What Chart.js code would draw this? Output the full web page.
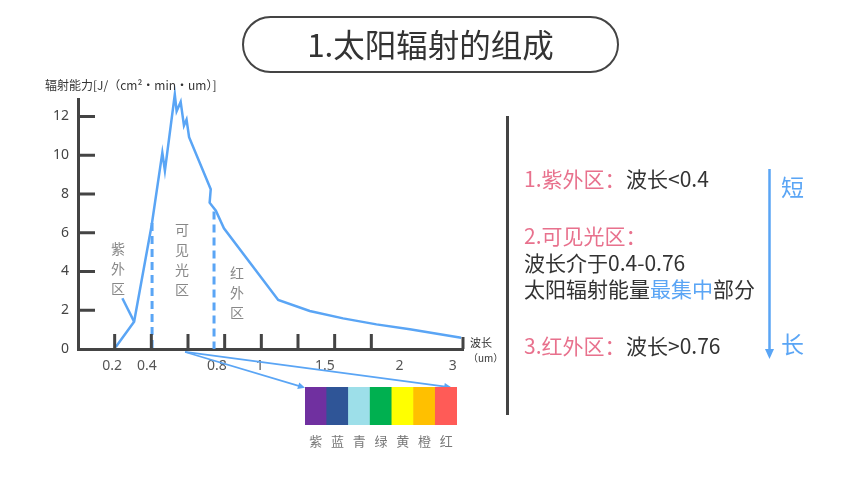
<!DOCTYPE html>
<html>
<head>
<meta charset="utf-8">
<script src="https://cdn.jsdelivr.net/npm/chart.js@4.4.0/dist/chart.umd.min.js"></script>
<style>
  body { margin: 0; width: 860px; height: 484px; background: #fff; position: relative; overflow: hidden;
         font-family: "Noto Sans CJK SC", "Noto Sans", sans-serif; color: #333; }
  .abs { position: absolute; white-space: nowrap; }
  #main { position: absolute; left: 0; top: 0; }
  #strip { position: absolute; left: 305px; top: 387px; }
  .title { left: 242px; top: 16px; width: 377px; height: 57px; box-sizing: border-box; border: 2.5px solid #444;
           border-radius: 30px; font-size: 31.5px; line-height: 51px; text-align: center; color: #333; }
  .region { font-size: 14px; line-height: 20px; color: #888; width: 20px; text-align: center; white-space: normal; }
  .note { font-size: 21px; line-height: 26px; color: #333; }
  .pink { color: #e8718d; }
  .blue { color: #5aa5f5; }
</style>
</head>
<body>
<canvas id="main" width="860" height="484"></canvas>
<canvas id="strip" width="152" height="70"></canvas>

<div class="abs title">1.太阳辐射的组成</div>
<div class="abs" style="left:45px;top:76px;font-size:12px;color:#333;">辐射能力[J/（cm²・min・um）]</div>
<div class="abs" style="left:470px;top:334px;font-size:11px;color:#333;">波长</div>
<div class="abs" style="left:468px;top:350px;font-size:10px;color:#333;">（um）</div>

<div class="abs region" style="left:108px;top:238px;">紫<br>外<br>区</div>
<div class="abs region" style="left:172px;top:219px;">可<br>见<br>光<br>区</div>
<div class="abs region" style="left:227px;top:262px;">红<br>外<br>区</div>

<div class="abs" style="left:506px;top:116px;width:3px;height:299px;background:#444;"></div>
<div class="abs note pink" style="left:524px;top:165px;">1.紫外区：</div>
<div class="abs note" style="left:626px;top:165px;">波长&lt;0.4</div>
<div class="abs note pink" style="left:524px;top:222px;">2.可见光区：</div>
<div class="abs note" style="left:524px;top:249px;">波长介于0.4-0.76</div>
<div class="abs note" style="left:524px;top:275px;">太阳辐射能量<span class="blue">最集中</span>部分</div>
<div class="abs note pink" style="left:524px;top:332px;">3.红外区：</div>
<div class="abs note" style="left:626px;top:332px;">波长&gt;0.76</div>

<svg class="abs" style="left:760px;top:165px;" width="20" height="200">
  <line x1="9.5" y1="4" x2="9.5" y2="186" stroke="#5aa5f5" stroke-width="2.5"/>
  <polygon points="5,184 14,184 9.5,194" fill="#5aa5f5"/>
</svg>
<div class="abs blue" style="left:781px;top:171px;font-size:23px;line-height:30px;">短</div>
<div class="abs blue" style="left:781px;top:328px;font-size:23px;line-height:30px;">长</div>

<script>
// hand-drawn axis: x is in "axis units" (one unit per tick mark), y in J/(cm²·min·um)
const xTickMarks = [1, 2, 3, 4, 5, 6, 7, 8, 10.5];
const xLabels = ['0.2', '0.4', '0.8', '1', '1.5', '2', '3'];
const xLabelPos = [0.93, 1.88, 3.79, 4.96, 6.73, 8.77, 10.22];
const yTicks = [0, 2, 4, 6, 8, 10, 12];

// spectrum curve
const curveX = [1.03, 1.53, 2.01, 2.30, 2.37, 2.64, 2.69, 2.80, 2.89, 2.96, 3.03, 3.62, 3.59, 3.76, 3.98, 5.46, 6.32, 7.23, 8.14, 9.05, 10.45];
const curveY = [0.1, 1.41, 6.4, 10.13, 9.2, 13.13, 12.27, 12.75, 11.53, 11.84, 10.93, 8.24, 7.55, 7.14, 6.23, 2.53, 1.96, 1.58, 1.27, 1.02, 0.58];

// region boundaries (dashed) and the UV callout
const dashX = [2.02, 3.71];
const dashTop = [6.5, 7.1];
const calloutX = [1.21, 1.53];
const calloutY = [2.62, 1.41];

// arrows from the visible part down to the colour strip
const arrowFrom = { x: 2.92, y: -0.15 };
const arrowTo = [{ x: 6.19, y: -2.0 }, { x: 10.18, y: -1.98 }];

// colour strip
const bandNames = ['紫', '蓝', '青', '绿', '黄', '橙', '红'];
const bandColors = ['#7030a0', '#2f5597', '#9ddfe9', '#00b050', '#ffff00', '#ffc000', '#ff5b57'];
const bandValues = [1, 1, 1, 1, 1, 1, 1];

const BLUE = '#5aa5f5';
const AXIS = '#444';

const pts = (xs, ys) => xs.map((x, i) => ({ x, y: ys[i] }));

const axisDecor = {
  id: 'axisDecor',
  afterDraw(chart) {
    const { ctx, scales: { x, y } } = chart;
    ctx.save();
    ctx.strokeStyle = AXIS;
    ctx.lineWidth = 3;
    ctx.beginPath();
    xTickMarks.forEach((v) => {
      const px = x.getPixelForValue(v);
      const len = v === 10.5 ? 12 : 15;
      ctx.moveTo(px, y.bottom);
      ctx.lineTo(px, y.bottom - len);
    });
    yTicks.slice(1).forEach((v) => {
      const py = y.getPixelForValue(v);
      ctx.moveTo(x.left, py);
      ctx.lineTo(x.left + 17, py);
    });
    ctx.stroke();

    // arrows
    ctx.strokeStyle = BLUE;
    ctx.fillStyle = BLUE;
    ctx.lineWidth = 1.6;
    const fx = x.getPixelForValue(arrowFrom.x), fy = y.getPixelForValue(arrowFrom.y);
    arrowTo.forEach((t) => {
      const tx = x.getPixelForValue(t.x), ty = y.getPixelForValue(t.y);
      const a = Math.atan2(ty - fy, tx - fx);
      ctx.beginPath();
      ctx.moveTo(fx, fy);
      ctx.lineTo(tx - 4 * Math.cos(a), ty - 4 * Math.sin(a));
      ctx.stroke();
      ctx.beginPath();
      ctx.moveTo(tx, ty);
      ctx.lineTo(tx - 7 * Math.cos(a) + 3.5 * Math.sin(a), ty - 7 * Math.sin(a) - 3.5 * Math.cos(a));
      ctx.lineTo(tx - 7 * Math.cos(a) - 3.5 * Math.sin(a), ty - 7 * Math.sin(a) + 3.5 * Math.cos(a));
      ctx.closePath();
      ctx.fill();
    });
    ctx.restore();
  },
};

new Chart(document.getElementById('main'), {
  type: 'line',
  data: {
    datasets: [
      {
        data: pts(curveX, curveY),
        borderColor: BLUE,
        borderWidth: 2.5,
        pointRadius: 0,
        tension: 0,
        clip: false,
      },
      ...dashX.map((dx, i) => ({
        data: [{ x: dx, y: dashTop[i] }, { x: dx, y: 0 }],
        borderColor: BLUE,
        borderWidth: 3,
        borderDash: [8, 5],
        pointRadius: 0,
        clip: false,
      })),
      {
        data: pts(calloutX, calloutY),
        borderColor: BLUE,
        borderWidth: 2.5,
        pointRadius: 0,
      },
    ],
  },
  options: {
    responsive: false,
    animation: false,
    layout: { padding: { left: 0, top: 99, right: 397, bottom: 0 } },
    plugins: { legend: { display: false }, tooltip: { enabled: false } },
    scales: {
      x: {
        type: 'linear',
        min: 0,
        max: 10.5,
        afterFit: (s) => { s.height = 135; },
        afterBuildTicks: (s) => { s.ticks = xLabelPos.map((v) => ({ value: v })); },
        grid: { drawOnChartArea: false, drawTicks: false },
        border: { color: AXIS, width: 3 },
        ticks: {
          autoSkip: false,
          maxRotation: 0,
          padding: 9,
          color: '#555',
          font: { size: 14, family: '"Noto Sans", sans-serif' },
          callback: (v, i) => xLabels[i],
        },
      },
      y: {
        min: 0,
        max: 12.9,
        afterFit: (s) => { s.width = 78; },
        afterBuildTicks: (s) => { s.ticks = yTicks.map((v) => ({ value: v })); },
        grid: { drawOnChartArea: false, drawTicks: false },
        border: { color: AXIS, width: 3 },
        ticks: {
          padding: 9,
          color: '#444',
          font: { size: 14, family: '"Noto Sans", sans-serif' },
        },
      },
    },
  },
  plugins: [axisDecor],
});

new Chart(document.getElementById('strip'), {
  type: 'bar',
  data: {
    labels: bandNames,
    datasets: [{
      data: bandValues,
      backgroundColor: bandColors,
      borderWidth: 0,
      barPercentage: 1,
      categoryPercentage: 1,
    }],
  },
  options: {
    responsive: false,
    animation: false,
    layout: { padding: 0 },
    plugins: { legend: { display: false }, tooltip: { enabled: false } },
    scales: {
      x: {
        afterFit: (s) => { s.height = 32; },
        grid: { display: false },
        border: { display: false },
        ticks: { padding: 0, color: '#777', font: { size: 13, family: '"Noto Sans CJK SC", sans-serif' } },
      },
      y: { display: false, min: 0, max: 1 },
    },
  },
});
</script>
</body>
</html>
